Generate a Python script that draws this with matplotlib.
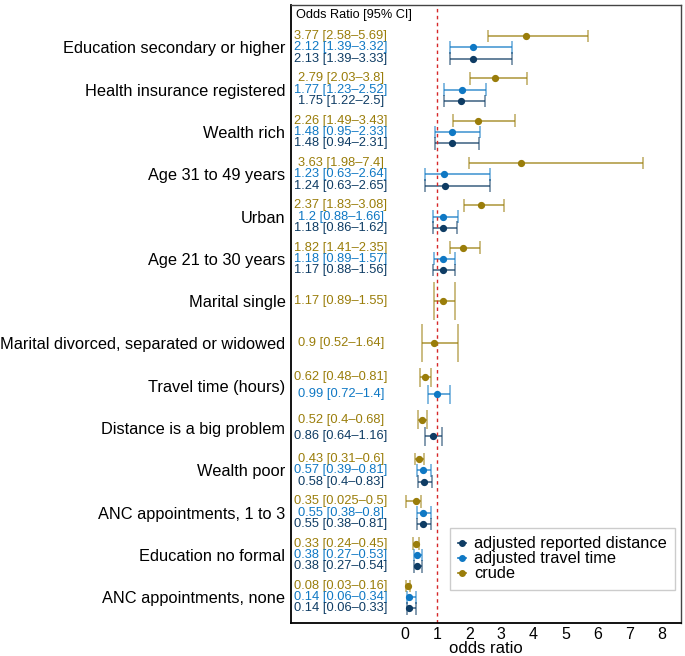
import matplotlib
matplotlib.use("Agg")
import matplotlib.pyplot as plt
from matplotlib.lines import Line2D

plt.rcParams['font.family'] = ['Liberation Sans', 'DejaVu Sans']

# predictors, top to bottom
labels = ['Education secondary or higher', 'Health insurance registered', 'Wealth rich',
          'Age 31 to 49 years', 'Urban', 'Age 21 to 30 years', 'Marital single',
          'Marital divorced, separated or widowed', 'Travel time (hours)',
          'Distance is a big problem', 'Wealth poor', 'ANC appointments, 1 to 3',
          'Education no formal', 'ANC appointments, none']

crude_or = [3.77, 2.79, 2.26, 3.63, 2.37, 1.82, 1.17, 0.9, 0.62, 0.52, 0.43, 0.35, 0.33, 0.08]
crude_lo = [2.58, 2.03, 1.49, 1.98, 1.83, 1.41, 0.89, 0.52, 0.48, 0.4, 0.31, 0.025, 0.24, 0.03]
crude_hi = [5.69, 3.8, 3.43, 7.4, 3.08, 2.35, 1.55, 1.64, 0.81, 0.68, 0.6, 0.5, 0.45, 0.16]

travel_or = [2.12, 1.77, 1.48, 1.23, 1.2, 1.18, None, None, 0.99, None, 0.57, 0.55, 0.38, 0.14]
travel_lo = [1.39, 1.23, 0.95, 0.63, 0.88, 0.89, None, None, 0.72, None, 0.39, 0.38, 0.27, 0.06]
travel_hi = [3.32, 2.52, 2.33, 2.64, 1.66, 1.57, None, None, 1.4, None, 0.81, 0.8, 0.53, 0.34]

dist_or = [2.13, 1.75, 1.48, 1.24, 1.18, 1.17, None, None, None, 0.86, 0.58, 0.55, 0.38, 0.14]
dist_lo = [1.39, 1.22, 0.94, 0.63, 0.86, 0.88, None, None, None, 0.64, 0.4, 0.38, 0.27, 0.06]
dist_hi = [3.33, 2.5, 2.31, 2.65, 1.62, 1.56, None, None, None, 1.16, 0.83, 0.81, 0.54, 0.33]

series = [
    ('crude', '#9A7D0A', crude_or, crude_lo, crude_hi),
    ('adjusted travel time', '#0F78C4', travel_or, travel_lo, travel_hi),
    ('adjusted reported distance', '#0E3C64', dist_or, dist_lo, dist_hi),
]

fig = plt.figure(figsize=(6.85, 6.56), dpi=100)
ax = fig.add_axes([0.4248, 0.0503, 0.5694, 0.942])

n_rows = len(labels)
centers = [n_rows - 1 - i for i in range(n_rows)]

for i in range(n_rows):
    present = [s for s in series if s[2][i] is not None]
    n = len(present)
    step = 0.8 / n
    half_cap = 0.45 / n
    for k, (name, color, est, lo, hi) in enumerate(present):
        y = centers[i] + 0.4 - step * (k + 0.5)
        ax.hlines(y, lo[i], hi[i], color=color, lw=1.2, alpha=0.75)
        ax.vlines([lo[i], hi[i]], y - half_cap, y + half_cap, color=color, lw=1.2, alpha=0.6)
        ax.plot(est[i], y, 'o', color=color, ms=4.2, zorder=3)
        ax.text(-2.0, y, f"{est[i]:g} [{lo[i]:g}\u2013{hi[i]:g}]", color=color,
                fontsize=9.3, ha='center', va='center')

ax.axvline(1, color='#D62728', ls=(0, (2.5, 2.5)), lw=1)
ax.text(-3.4, n_rows - 1 + 0.76, 'Odds Ratio [95% CI]', fontsize=9.2, ha='left', va='center')

ax.set_xlim(-3.55, 8.6)
ax.set_ylim(-0.61, n_rows - 1 + 1.0)
ax.set_xticks(range(0, 9))
ax.set_yticks(centers)
ax.set_yticklabels(labels, fontsize=11.75)
ax.tick_params(axis='both', length=0)
ax.tick_params(axis='x', labelsize=11.5, pad=3)
ax.tick_params(axis='y', pad=4)
ax.set_xlabel('odds ratio', fontsize=12, labelpad=-1)

for side in ['left', 'bottom']:
    ax.spines[side].set_linewidth(1.3)
    ax.spines[side].set_color('black')
for side in ['top', 'right']:
    ax.spines[side].set_linewidth(1.0)
    ax.spines[side].set_color('#444444')

handles = [Line2D([], [], color=s[1], marker='o', ms=4, lw=1.2) for s in reversed(series)]
ax.legend(handles, [s[0] for s in reversed(series)], loc='lower right',
          bbox_to_anchor=(0.985, 0.054), borderaxespad=0, fontsize=11.8,
          handlelength=0.5, handletextpad=0.5, labelspacing=0.0,
          fancybox=False, edgecolor='#cccccc', framealpha=1, borderpad=0.5)

fig.savefig('out.png', dpi=100)
